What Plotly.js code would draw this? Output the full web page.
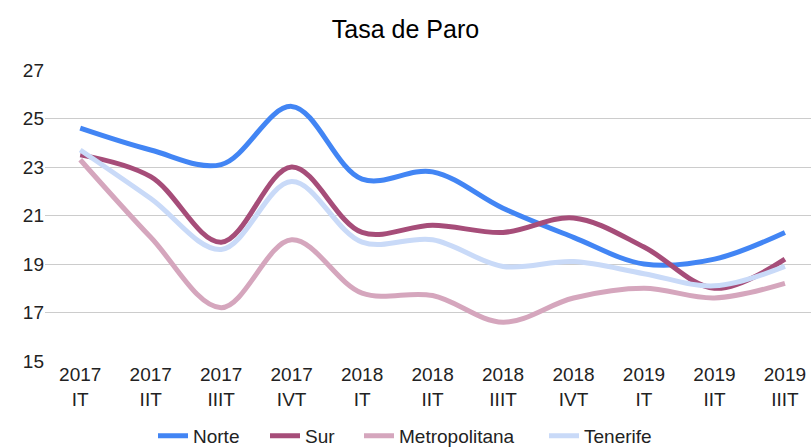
<!DOCTYPE html>
<html>
<head>
<meta charset="utf-8">
<script src="https://cdn.plot.ly/plotly-3.0.1.min.js"></script>
<style>html,body{margin:0;padding:0;background:#fff;}#chart{width:811px;height:447px;}</style>
</head>
<body>
<div id="chart"></div>
<script>
const categories = ["2017<br>IT","2017<br>IIT","2017<br>IIIT","2017<br>IVT","2018<br>IT","2018<br>IIT","2018<br>IIIT","2018<br>IVT","2019<br>IT","2019<br>IIT","2019<br>IIIT"];
const norte = [24.6, 23.7, 23.1, 25.5, 22.5, 22.8, 21.3, 20.1, 19.0, 19.2, 20.3];
const sur = [23.5, 22.6, 19.9, 23.0, 20.3, 20.6, 20.3, 20.9, 19.7, 18.0, 19.2];
const metropolitana = [23.3, 20.1, 17.2, 20.0, 17.8, 17.7, 16.6, 17.6, 18.0, 17.6, 18.2];
const tenerife = [23.7, 21.7, 19.6, 22.4, 19.9, 20.0, 18.9, 19.1, 18.6, 18.1, 18.9];
const seriesNames = ["Norte", "Sur", "Metropolitana", "Tenerife"];
const seriesColors = ["#4285F4", "#A64D79", "#D5A6BD", "#C9DAF8"];
const seriesValues = [norte, sur, metropolitana, tenerife];
const legendWidths = [67, 49, 140, 72];
const yTicks = [15, 17, 19, 21, 23, 25, 27];

const font = "Liberation Sans, Arial, sans-serif";
const traces = seriesValues.map((vals, i) => ({
  type: "scatter",
  mode: "lines",
  name: seriesNames[i],
  x: categories,
  y: vals,
  line: {color: seriesColors[i], width: 5, shape: "spline", smoothing: 1},
  legendwidth: legendWidths[i],
  hoverinfo: "skip"
}));

const layout = {
  width: 811, height: 447,
  margin: {l: 45, r: 0, t: 70, b: 86},
  paper_bgcolor: "#fff", plot_bgcolor: "#fff",
  font: {family: font, size: 19, color: "#222"},
  title: {text: "Tasa de Paro", font: {family: font, size: 25, color: "#000"}, x: 0.5, xanchor: "center", y: 0.935, yanchor: "middle"},
  xaxis: {
    type: "category",
    range: [-0.5, 10.37],
    showgrid: false, zeroline: false, showline: false, ticks: "",
    tickfont: {family: font, size: 19, color: "#222"},
    fixedrange: true
  },
  yaxis: {
    range: [15, 27],
    tickvals: yTicks,
    ticktext: yTicks.map(String),
    showgrid: true, gridcolor: "#cccccc", gridwidth: 1,
    zeroline: false, showline: false, ticks: "",
    tickfont: {family: font, size: 19, color: "#222"},
    fixedrange: true
  },
  showlegend: true,
  legend: {
    orientation: "h",
    xref: "container", x: 153 / 811, xanchor: "left",
    yref: "container", y: 0.025, yanchor: "middle",
    font: {family: font, size: 19, color: "#222"},
    itemwidth: 30,
    traceorder: "normal"
  }
};

Plotly.newPlot("chart", traces, layout, {displayModeBar: false, staticPlot: true});
</script>
</body>
</html>
